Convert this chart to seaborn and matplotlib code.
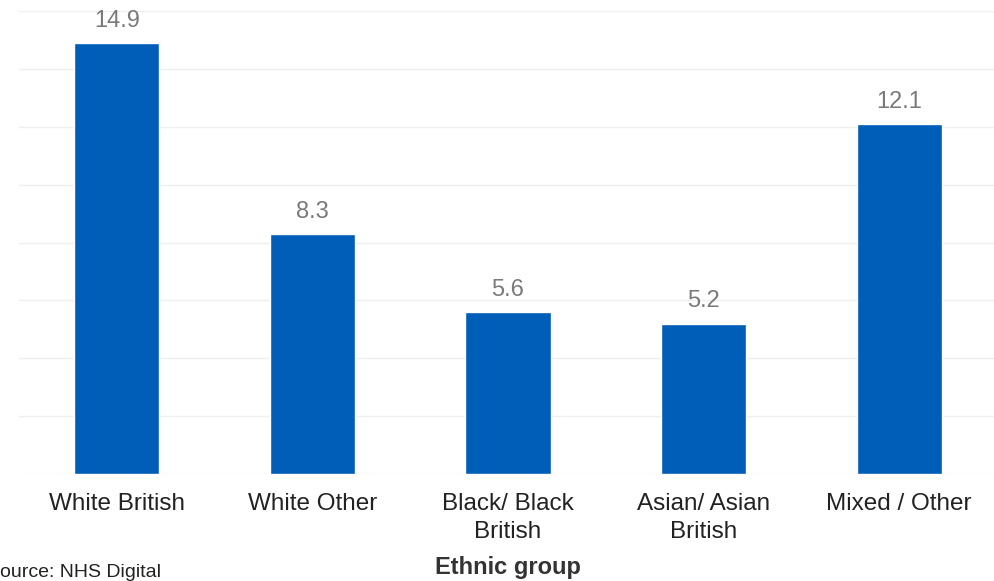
import matplotlib
matplotlib.use("Agg")
import matplotlib.pyplot as plt
import seaborn as sns
import pandas as pd

categories = ["White British", "White Other", "Black/ Black\nBritish", "Asian/ Asian\nBritish", "Mixed / Other"]
values = [14.9, 8.3, 5.6, 5.2, 12.1]
value_labels = ["14.9", "8.3", "5.6", "5.2", "12.1"]
x_title = "Ethnic group"
source_text = "Source: NHS Digital"

sns.set_theme(style="white")
plt.rcParams["font.family"] = ["Liberation Sans", "DejaVu Sans"]

df = pd.DataFrame({"group": categories, "value": values})

fig = plt.figure(figsize=(9.94, 5.81), dpi=100)
ax = fig.add_axes([19 / 994, 1 - 474 / 581, (997 - 19) / 994, (474 - 11) / 581])

sns.barplot(data=df, x="group", y="value", color="#005EB8", width=0.435,
            saturation=1, ax=ax, zorder=3)

ax.set_xlim(-0.5, 4.5)
ax.set_ylim(0, 16)
ax.set_yticks(range(0, 17, 2))
ax.yaxis.grid(True, color="#efefef", linewidth=1, zorder=0)
ax.xaxis.grid(False)
ax.set_yticklabels([])
ax.tick_params(axis="y", length=0)
ax.tick_params(axis="x", length=0, pad=14, labelsize=17.5, labelcolor="#222222")
for t in ax.get_xticklabels():
    t.set_linespacing(1.35)
for s in ax.spines.values():
    s.set_visible(False)

for p, lab in zip(ax.patches, value_labels):
    ax.annotate(lab, (p.get_x() + p.get_width() / 2, p.get_height()),
                xytext=(0, 8), textcoords="offset points",
                ha="center", va="bottom", fontsize=17, color="#7a7a7a")

ax.set_ylabel("")
ax.set_xlabel(x_title, fontsize=17, fontweight="bold", color="#333333", labelpad=9)

fig.text(-13 / 994, 1 - 564 / 581, source_text, ha="left", va="top",
         fontsize=14, color="#222222")

fig.savefig("out.png", dpi=100)
